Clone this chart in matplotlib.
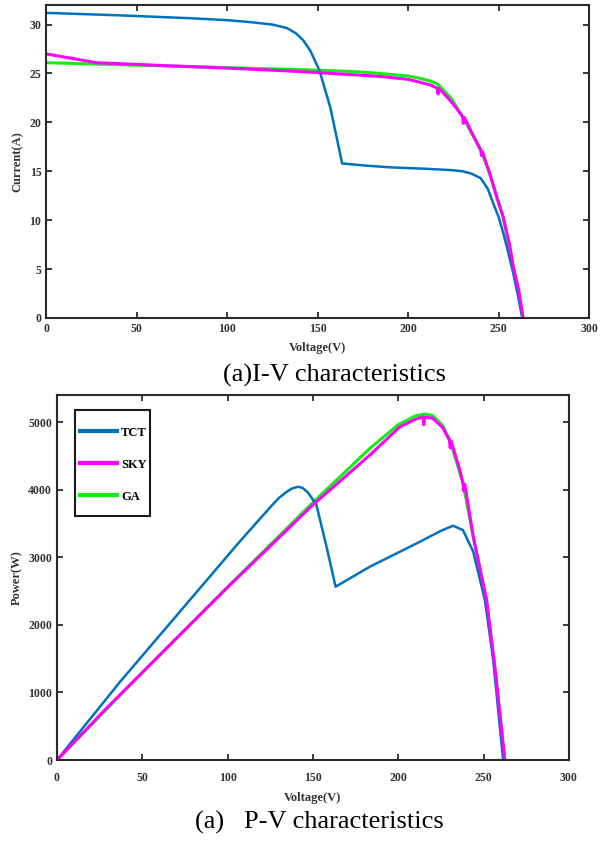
import numpy as np
import matplotlib.pyplot as plt
from matplotlib.patches import Rectangle

# ---- I-V data ----
v_tct_iv = [0, 40, 80, 100, 113, 125, 133, 138, 142, 146, 151, 157, 163.5, 175, 190, 210,
            225, 230, 235, 240, 244, 247, 250, 252.5, 255, 258, 260.5, 263]
i_tct = [31.2, 30.95, 30.65, 30.45, 30.25, 30.0, 29.65, 29.1, 28.4, 27.3, 25.3, 21.5, 15.8, 15.6,
         15.4, 15.25, 15.1, 15.0, 14.75, 14.3, 13.2, 11.7, 10.3, 8.7, 6.9, 4.6, 2.4, 0]

v_sky_iv = [0, 28, 60, 100, 140, 184.5, 200, 206.6, 212, 216, 216.5, 217, 222, 226, 230, 230.5,
            231, 235, 240, 240.5, 241, 245, 249, 252.5, 256, 258, 261, 263.5]
i_sky = [27.0, 26.1, 25.85, 25.55, 25.2, 24.7, 24.4, 24.1, 23.85, 23.5, 22.9, 23.45, 22.5, 21.6,
         20.6, 19.9, 20.5, 19.0, 17.2, 16.6, 17.0, 14.8, 12.3, 10.3, 7.5, 5.3, 2.9, 0]

v_ga_iv = [0, 50, 100, 140, 170, 184.5, 200, 206.6, 212, 216, 219, 224, 230, 240, 245, 252.5, 258, 263.5]
i_ga = [26.1, 25.85, 25.6, 25.4, 25.2, 25.0, 24.75, 24.5, 24.25, 23.95, 23.4, 22.4, 20.6, 17.2,
        14.8, 10.3, 5.2, 0]

# ---- P-V data ----
v_tct_pv = [0, 37, 107, 125, 130, 135, 138, 141.4, 144, 147, 152, 158, 163.3, 183.4, 212.7, 225,
            232.2, 238, 244, 250.8, 255.7, 261.5]
p_tct = [0, 1158, 3229, 3740, 3875, 3975, 4020, 4043, 4025, 3960, 3780, 3155, 2564, 2860, 3229,
         3390, 3466, 3400, 3080, 2367, 1479, 0]

v_sky_pv = [0, 28, 100, 150, 183.4, 201, 210, 214.6, 215, 215.5, 220, 226, 230, 230.5, 231,
            236, 238, 238.5, 239, 244, 251.8, 257, 262.5]
p_sky = [0, 740, 2555, 3775, 4512, 4930, 5040, 5078, 4960, 5070, 5060, 4920, 4734, 4620, 4720,
         4300, 4093, 3980, 4080, 3303, 2367, 1300, 0]

v_ga_pv = [0, 50, 100, 150, 183.4, 200, 210, 215.6, 220, 226, 230.3, 238, 244, 251.8, 257, 262.5]
p_ga = [0, 1292, 2560, 3810, 4611, 4960, 5090, 5118, 5100, 4950, 4734, 4093, 3303, 2367, 1300, 0]

c_tct = '#0072BD'
c_sky = '#FF00FF'
c_ga = '#14EE14'

plt.rcParams['font.family'] = ['Liberation Serif', 'DejaVu Serif']

fig = plt.figure(figsize=(6, 8.41), dpi=100)
ax1 = fig.add_axes([0.077, 0.622, 0.905, 0.372])
ax2 = fig.add_axes([0.095, 0.0963, 0.853, 0.434])


def style(ax, xpad):
    for s in ax.spines.values():
        s.set_linewidth(1.5)
        s.set_color('#2a2a2a')
    ax.tick_params(direction='in', top=True, right=True, length=4, width=1.3,
                   colors='#2a2a2a', labelsize=8.5)
    ax.tick_params(axis='x', pad=xpad)
    for lab in ax.get_xticklabels() + ax.get_yticklabels():
        lab.set_fontweight('bold')
        lab.set_color('#333333')


ax1.plot(v_ga_iv, i_ga, color=c_ga, lw=2.2)
ax1.plot(v_tct_iv, i_tct, color=c_tct, lw=1.8)
ax1.plot(v_sky_iv, i_sky, color=c_sky, lw=2.2)
ax1.set_xlim(0, 300)
ax1.set_ylim(0, 32)
ax1.set_xticks(np.arange(0, 301, 50))
ax1.set_yticks(np.arange(0, 31, 5))
style(ax1, 4)
ax1.set_xlabel('Voltage(V)', fontsize=9, fontweight='bold', color='#333333', labelpad=5)
ax1.set_ylabel('Current(A)', fontsize=9, fontweight='bold', color='#333333', labelpad=4)

ax2.plot(v_ga_pv, p_ga, color=c_ga, lw=2.2, label='GA')
ax2.plot(v_tct_pv, p_tct, color=c_tct, lw=1.8, label='TCT')
ax2.plot(v_sky_pv, p_sky, color=c_sky, lw=2.2, label='SKY')
ax2.set_xlim(0, 300)
ax2.set_ylim(0, 5400)
ax2.set_xticks(np.arange(0, 301, 50))
ax2.set_yticks(np.arange(0, 5001, 1000))
style(ax2, 8.5)
ax2.set_xlabel('Voltage(V)', fontsize=9, fontweight='bold', color='#333333', labelpad=6)
ax2.set_ylabel('Power(W)', fontsize=9, fontweight='bold', color='#333333', labelpad=4)

# legend box drawn separately so its padding can match the original
ax2.add_patch(Rectangle((0.0352, 0.6685), 0.1464, 0.2904, transform=ax2.transAxes,
                        facecolor='white', edgecolor='#1a1a1a', lw=1.5, zorder=5))
h, l = ax2.get_legend_handles_labels()
order = [1, 2, 0]
leg = ax2.legend([h[i] for i in order], [l[i] for i in order], loc='upper left',
                 bbox_to_anchor=(0.0449, 0.9134), borderaxespad=0, frameon=False,
                 handlelength=3.0, labelspacing=1.6, handletextpad=0.3, borderpad=0,
                 prop={'family': 'Liberation Serif', 'weight': 'bold', 'size': 9})
leg.set_zorder(6)
for ln in leg.get_lines():
    ln.set_linewidth(3)

fig.text(0.558, 0.553, '(a)I-V characteristics', ha='center', va='center', fontsize=19)
fig.text(0.533, 0.0226, '(a)   P-V characteristics', ha='center', va='center', fontsize=19)

fig.savefig('out.png', dpi=100)
